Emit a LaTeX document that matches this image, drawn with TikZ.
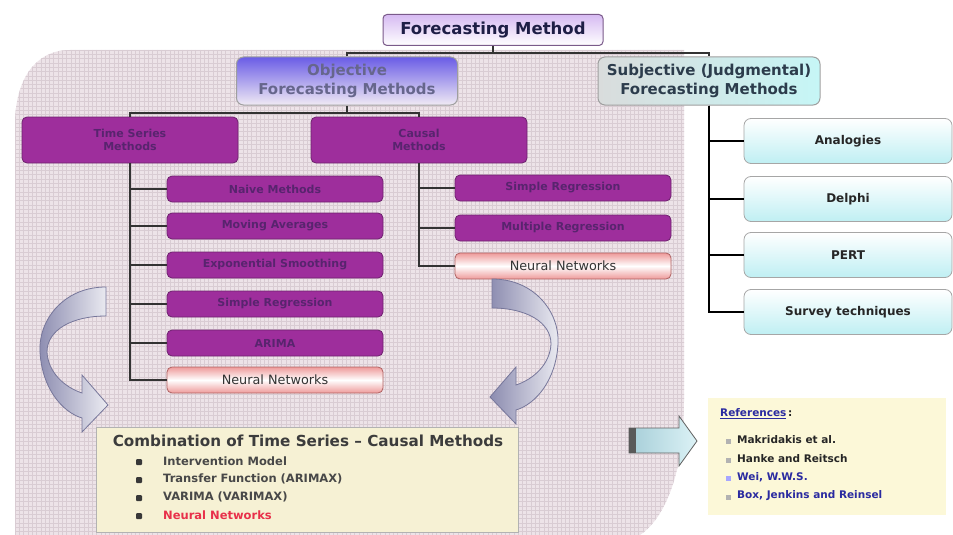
\documentclass[tikz,border=0pt]{standalone}
\usepackage{fontspec}
\setmainfont{DejaVu Sans}
\usetikzlibrary{calc}
\definecolor{bgpink}{HTML}{EDE3E8}
\definecolor{gridc}{HTML}{D9CCD3}
\definecolor{purp}{HTML}{9E2E9C}
\definecolor{purpdark}{HTML}{6E226E}
\definecolor{purptext}{HTML}{58246E}
\definecolor{nnpink}{HTML}{EE9A9A}
\definecolor{nnborder}{HTML}{B06262}
\definecolor{cyanlt}{HTML}{BFEFF3}
\definecolor{fmtop}{HTML}{D6BAF2}
\definecolor{fmborder}{HTML}{7A5A8A}
\definecolor{fmtext}{HTML}{1E1E46}
\definecolor{objtop}{HTML}{6A5CE6}
\definecolor{objbot}{HTML}{F0EAF4}
\definecolor{objtext}{HTML}{66668C}
\definecolor{subjl}{HTML}{D9DCDC}
\definecolor{subjr}{HTML}{C6F6F6}
\definecolor{subjtext}{HTML}{2C3C4C}
\definecolor{combfill}{HTML}{F6F1D4}
\definecolor{combtext}{HTML}{3C3C3C}
\definecolor{itemtext}{HTML}{484848}
\definecolor{nnred}{HTML}{E8304A}
\definecolor{reffill}{HTML}{FCF8D8}
\definecolor{refblue}{HTML}{2A2AA0}
\definecolor{arrl}{HTML}{8C8CB0}
\definecolor{arrr}{HTML}{ECECF2}
\definecolor{arrdraw}{HTML}{76769A}
\definecolor{barrl}{HTML}{A6CED8}
\definecolor{barrr}{HTML}{DCF2F6}
\begin{document}
\begin{tikzpicture}[x=1pt,y=-1pt,
  fmbox/.style={draw=fmborder, line width=1pt, rounded corners=4pt, top color=fmtop, bottom color=white,
    font=\bfseries\fontsize{16.5}{19}\selectfont, text=fmtext, minimum width=220pt, minimum height=31pt, inner sep=0pt},
  objbox/.style={draw=gray!75, line width=1pt, rounded corners=7pt, top color=objtop, bottom color=objbot,
    font=\bfseries\fontsize{15}{19}\selectfont, text=objtext, minimum width=221pt, minimum height=48pt, inner sep=0pt, align=center},
  subjbox/.style={draw=gray!75, line width=1pt, rounded corners=7pt, left color=subjl, right color=subjr,
    font=\bfseries\fontsize{15}{19}\selectfont, text=subjtext, minimum width=222pt, minimum height=48pt, inner sep=0pt, align=center},
  purpbox/.style={draw=purpdark, line width=0.8pt, fill=purp, rounded corners=5pt, text=purptext,
    font=\bfseries\fontsize{11}{13}\selectfont, minimum height=26pt, minimum width=216pt, inner sep=0pt, align=center},
  nnbox/.style={draw=nnborder, line width=0.8pt, rounded corners=5pt, top color=nnpink, bottom color=nnpink, middle color=white,
    text=black!80, font=\fontsize{12.8}{15}\selectfont, minimum height=26pt, minimum width=216pt, inner sep=0pt},
  cyanbox/.style={draw=gray!70, line width=0.8pt, rounded corners=7pt, top color=white, bottom color=cyanlt,
    font=\bfseries\fontsize{12}{14}\selectfont, text=black!85, minimum height=45pt, minimum width=208pt, inner sep=0pt},
  conn/.style={draw=black!80, line width=2pt},
  sconn/.style={draw=black, line width=2.6pt},
  itemf/.style={anchor=west, inner sep=0pt, font=\bfseries\fontsize{11.5}{13}\selectfont, text=itemtext},
  reff/.style={anchor=west, inner sep=0pt, font=\bfseries\fontsize{10.5}{12}\selectfont, text=black!85},
  bul/.style={fill=black!78, minimum size=6pt, inner sep=0pt, rounded corners=1pt},
  rbul/.style={fill=gray!60, minimum size=5pt, inner sep=0pt},
  curvarrow/.style={draw=arrdraw, line width=0.8pt, left color=arrl, right color=arrr}
]
\useasboundingbox (0,0) rectangle (953,535);
\fill[white] (0,0) rectangle (953,535);

% background panel with grid
\def\bgpath{(15,535) -- (15,125) .. controls (15,80) and (35,50) .. (70,50) -- (684,50) -- (684,400) .. controls (684,480) and (662,520) .. (640,535) -- cycle}
\fill[bgpink] \bgpath;
\begin{scope}
  \clip \bgpath;
  \foreach \gx in {15,19.3,...,690} {\draw[gridc, line width=0.45pt] (\gx,50) -- (\gx,535);}
  \foreach \gy in {50,54.3,...,535} {\draw[gridc, line width=0.45pt] (15,\gy) -- (690,\gy);}
\end{scope}

% top level
\node[fmbox] (fm) at (493,30) {Forecasting Method};
\node[objbox] (obj) at (347,81) {Objective\\Forecasting Methods};
\node[subjbox] (subj) at (709,81) {Subjective (Judgmental)\\Forecasting Methods};

% second level
\node[purpbox, minimum height=46pt] (ts) at (130,140) {Time Series\\Methods};
\node[purpbox, minimum height=46pt] (causal) at (419,140) {Causal\\Methods};

% time series methods
\node[purpbox] (t1) at (275,189) {Naive Methods};
\node[purpbox] (t2) at (275,226) {Moving Averages};
\node[purpbox] (t3) at (275,265) {Exponential Smoothing};
\node[purpbox] (t4) at (275,304) {Simple Regression};
\node[purpbox] (t5) at (275,343) {ARIMA};
\node[nnbox]   (t6) at (275,380) {Neural Networks};

% causal methods
\node[purpbox] (c1) at (563,188) {Simple Regression};
\node[purpbox] (c2) at (563,228) {Multiple Regression};
\node[nnbox]   (c3) at (563,266) {Neural Networks};

% subjective methods
\node[cyanbox] (s1) at (848,141) {Analogies};
\node[cyanbox] (s2) at (848,199) {Delphi};
\node[cyanbox] (s3) at (848,255) {PERT};
\node[cyanbox] (s4) at (848,312) {Survey techniques};

% connectors
\draw[conn] (fm.south) -- ++(0,7) coordinate (fmj) -| (obj.north);
\draw[conn] (fmj) -| (subj.north);
\draw[conn] (obj.south) -- ++(0,7) coordinate (oj) -| (ts.north);
\draw[conn] (oj) -| (causal.north);
\foreach \i in {1,...,6} {\draw[conn] (ts.south) |- (t\i.west);}
\foreach \i in {1,2,3} {\draw[conn] (causal.south) |- (c\i.west);}
\foreach \i in {1,...,4} {\draw[sconn] (subj.south) |- (s\i.west);}

% curved arrows
\def\carrow{(106,287) .. controls (62,287) and (38,322) .. (40,352)
  .. controls (42,388) and (62,412) .. (82,418)
  -- (82,432) -- (108,405) -- (82,375) -- (82,393)
  .. controls (64,387) and (48,372) .. (47,352)
  .. controls (47,330) and (72,316) .. (106,316) -- cycle}
\shade[curvarrow] \carrow;
\begin{scope}[shift={(598,-8)}, xscale=-1]
  \shade[curvarrow] \carrow;
\end{scope}

% combination box
\node[draw=gray!60, line width=1pt, fill=combfill, minimum width=422pt, minimum height=105pt, inner sep=0pt] (comb) at (307,479.5) {};
\node[inner sep=0pt, font=\bfseries\fontsize{15.2}{18}\selectfont, text=combtext] (combt) at (308,441) {Combination of Time Series – Causal Methods};
\node[bul] (b1) at (139,462) {};
\node[bul] (b2) at (139,480) {};
\node[bul] (b3) at (139,498) {};
\node[bul] (b4) at (139,516) {};
\node[itemf] (i1) at (163,461) {Intervention Model};
\node[itemf] (i2) at (163,479) {Transfer Function (ARIMAX)};
\node[itemf] (i3) at (163,497) {VARIMA (VARIMAX)};
\node[itemf, text=nnred] (i4) at (163,515) {Neural Networks};

% block arrow
\shade[draw=gray!75!black, line width=0.8pt, left color=barrl, right color=barrr]
  (629,428) -- (679,428) -- (679,416) -- (697,441) -- (679,466) -- (679,453) -- (629,453) -- cycle;
\fill[gray!70!black] (629,428) rectangle (636,453);

% references
\node[fill=reffill, minimum width=238pt, minimum height=117pt, inner sep=0pt] (refs) at (827,456.5) {};
\node[reff] (rh) at (720,414) {\textcolor{refblue}{\underline{References}}\,:};
\node[rbul] (rb1) at (728,441) {};
\node[rbul] (rb2) at (728,460) {};
\node[rbul, fill=blue!35] (rb3) at (728,478) {};
\node[rbul] (rb4) at (728,497) {};
\node[reff] (r1) at (737,440) {Makridakis et al.};
\node[reff] (r2) at (737,459) {Hanke and Reitsch};
\node[reff, text=refblue] (r3) at (737,477) {Wei, W.W.S.};
\node[reff, text=refblue] (r4) at (737,496) {Box, Jenkins and Reinsel};
\end{tikzpicture}
\end{document}
